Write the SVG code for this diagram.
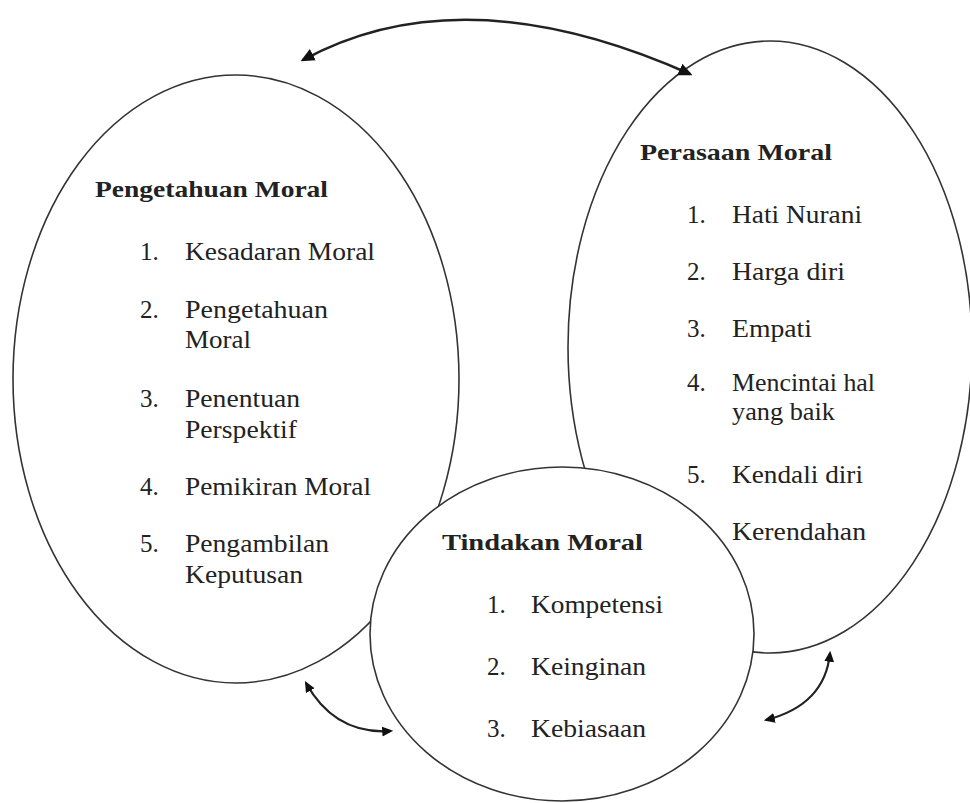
<svg xmlns="http://www.w3.org/2000/svg" width="970" height="803" viewBox="0 0 970 803">
<defs>
<style>
.shape{fill:#fff;stroke:#333;stroke-width:1.6}
.t{font-family:"Times New Roman","Liberation Serif",Tinos,serif;font-size:25px;fill:#222}
.b{font-family:"Times New Roman","Liberation Serif",Tinos,serif;font-size:24px;font-weight:bold;fill:#222}
.c{fill:none;stroke:#222;stroke-width:2.6}
.c2{fill:none;stroke:#222;stroke-width:2.2}
</style>
<marker id="ah" viewBox="0 0 10 10" refX="8" refY="5" markerUnits="userSpaceOnUse" markerWidth="14" markerHeight="14" orient="auto-start-reverse">
<path d="M0,0.5 L10,5 L0,9.5 z" fill="#111"/>
</marker>
<marker id="ah2" viewBox="0 0 10 10" refX="8" refY="5" markerUnits="userSpaceOnUse" markerWidth="11" markerHeight="11" orient="auto-start-reverse">
<path d="M0,0.5 L10,5 L0,9.5 z" fill="#111"/>
</marker>
</defs>
<rect width="970" height="803" fill="#fff"/>

<g id="node-pengetahuan">
<ellipse class="shape" cx="236" cy="379" rx="223" ry="304"/>
<text class="b" x="95" y="197" textLength="233" lengthAdjust="spacingAndGlyphs">Pengetahuan Moral</text>
<text class="t" x="140" y="260">1.</text>
<text class="t" x="185" y="260" textLength="190" lengthAdjust="spacingAndGlyphs">Kesadaran Moral</text>
<text class="t" x="140" y="318">2.</text>
<text class="t" x="185" y="318" textLength="143" lengthAdjust="spacingAndGlyphs">Pengetahuan</text>
<text class="t" x="185" y="348" textLength="66" lengthAdjust="spacingAndGlyphs">Moral</text>
<text class="t" x="140" y="407">3.</text>
<text class="t" x="185" y="407" textLength="115" lengthAdjust="spacingAndGlyphs">Penentuan</text>
<text class="t" x="185" y="438" textLength="112" lengthAdjust="spacingAndGlyphs">Perspektif</text>
<text class="t" x="140" y="495">4.</text>
<text class="t" x="185" y="495" textLength="186" lengthAdjust="spacingAndGlyphs">Pemikiran Moral</text>
<text class="t" x="140" y="552">5.</text>
<text class="t" x="185" y="552" textLength="144" lengthAdjust="spacingAndGlyphs">Pengambilan</text>
<text class="t" x="185" y="583" textLength="118" lengthAdjust="spacingAndGlyphs">Keputusan</text>
</g>

<g id="node-perasaan">
<ellipse class="shape" cx="770" cy="347" rx="202" ry="306"/>
<text class="b" x="640" y="160" textLength="192" lengthAdjust="spacingAndGlyphs">Perasaan Moral</text>
<text class="t" x="687" y="223">1.</text>
<text class="t" x="732" y="223" textLength="130" lengthAdjust="spacingAndGlyphs">Hati Nurani</text>
<text class="t" x="687" y="280">2.</text>
<text class="t" x="732" y="280" textLength="113" lengthAdjust="spacingAndGlyphs">Harga diri</text>
<text class="t" x="687" y="337">3.</text>
<text class="t" x="732" y="337" textLength="80" lengthAdjust="spacingAndGlyphs">Empati</text>
<text class="t" x="687" y="391">4.</text>
<text class="t" x="732" y="391" textLength="143" lengthAdjust="spacingAndGlyphs">Mencintai hal</text>
<text class="t" x="732" y="420" textLength="103" lengthAdjust="spacingAndGlyphs">yang baik</text>
<text class="t" x="687" y="483">5.</text>
<text class="t" x="732" y="483" textLength="131" lengthAdjust="spacingAndGlyphs">Kendali diri</text>
<text class="t" x="732" y="540" textLength="134" lengthAdjust="spacingAndGlyphs">Kerendahan</text>
</g>

<g id="node-tindakan">
<ellipse class="shape" cx="562" cy="634" rx="192" ry="167"/>
<text class="b" x="442" y="550" textLength="201" lengthAdjust="spacingAndGlyphs">Tindakan  Moral</text>
<text class="t" x="487" y="613">1.</text>
<text class="t" x="531" y="613" textLength="132" lengthAdjust="spacingAndGlyphs">Kompetensi</text>
<text class="t" x="487" y="675">2.</text>
<text class="t" x="531" y="675" textLength="115" lengthAdjust="spacingAndGlyphs">Keinginan</text>
<text class="t" x="487" y="737">3.</text>
<text class="t" x="531" y="737" textLength="115" lengthAdjust="spacingAndGlyphs">Kebiasaan</text>
</g>

<g id="connectors">
<path class="c" d="M303,60 Q463,-27 690,74" marker-start="url(#ah)" marker-end="url(#ah)"/>
<path class="c2" d="M306,683 Q335,735 391,731" marker-start="url(#ah2)" marker-end="url(#ah2)"/>
<path class="c2" d="M830,653 Q825,705 766,720" marker-start="url(#ah2)" marker-end="url(#ah2)"/>
</g>
</svg>
